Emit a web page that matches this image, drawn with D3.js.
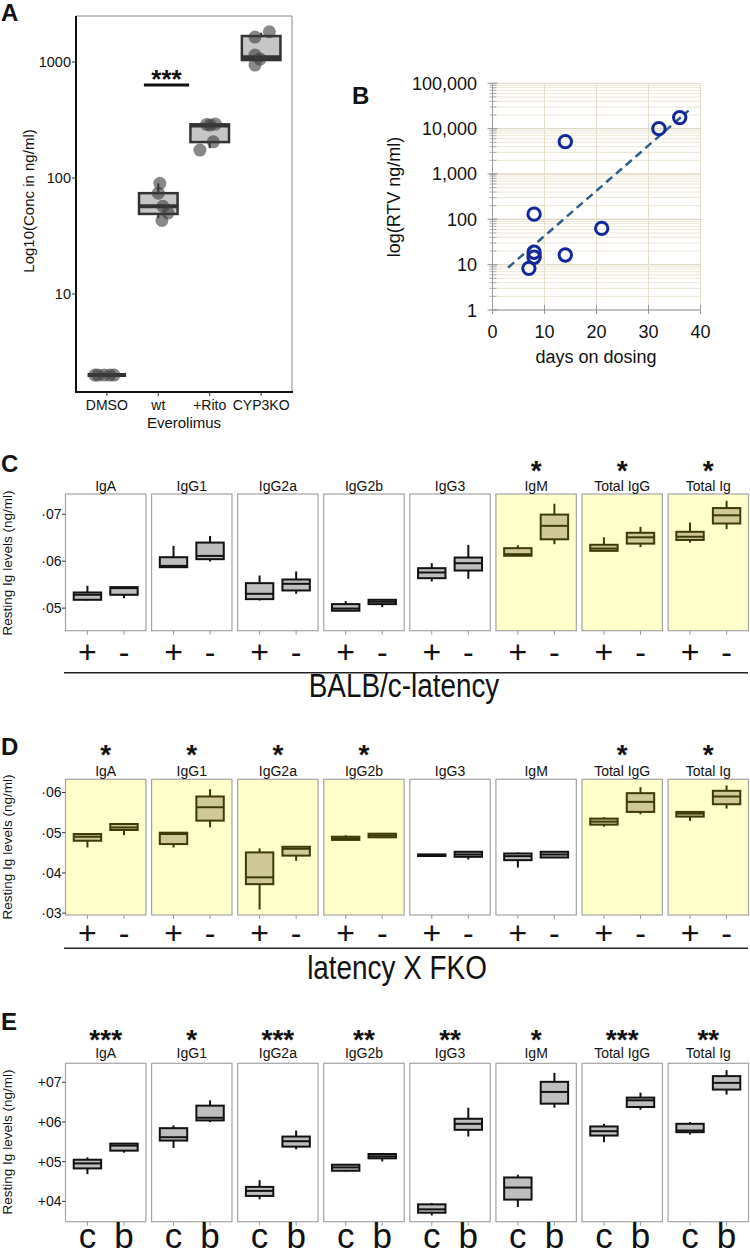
<!DOCTYPE html>
<html><head><meta charset="utf-8">
<script src="https://cdn.jsdelivr.net/npm/d3@7"></script>
<style>
body{margin:0;background:#fff}
svg{display:block}
text{font-family:"Liberation Sans",Arial,Helvetica,sans-serif;fill:#111}
</style>
</head><body>
<svg id="chart" width="750" height="1256"></svg>
<script>
// ================= DATA =================
// Panel A
const aCategories = ["DMSO", "wt", "+Rito", "CYP3KO"];
const aLow    = [2.0, 45, 181, 1000];
const aQ1     = [2.0, 49, 204, 1040];
const aMedian = [2.0, 57, 283, 1100];
const aQ3     = [2.0, 74, 290, 1675];
const aHigh   = [2.0, 90, 290, 1790];
const aPoints = [[2, 2, 2, 2, 2], [90, 74, 57, 50, 43], [174, 286, 292, 205, 290], [1640, 1820, 1150, 1060, 942]];
const aJitter = [[-0.23, -0.17, -0.05, 0.06, 0.14], [0.03, 0, 0.09, 0.19, 0.07], [-0.19, 0.01, 0.11, 0.07, -0.06], [-0.12, 0.16, -0.12, -0.02, -0.12]];
const aTicks = [10, 100, 1000];
const aSigFrom = 1.72, aSigTo = 2.6, aSigValue = 634, aSigLabel = "***";

// Panel B
const bDays = [7, 8, 8, 8, 14, 14, 21, 32, 36];
const bRTV  = [8.3, 14.6, 18.8, 130, 16.3, 5160, 63, 10000, 17500];
const bTrendDays = [3, 37.7];
const bTrendRTV  = [8.6, 25000];
const bXTicks = [0, 10, 20, 30, 40];
const bYTicks = [1, 10, 100, 1000, 10000, 100000];

// Panels C-E (log10 Ig levels): [low whisker, Q1, median, Q3, high whisker]
const isotypes = ["IgA", "IgG1", "IgG2a", "IgG2b", "IgG3", "IgM", "Total IgG", "Total Ig"];

const cPlus = [[5.163, 5.177, 5.284, 5.333, 5.475], [5.872, 5.872, 5.90, 6.085, 6.326], [5.163, 5.191, 5.305, 5.532, 5.695], [4.943, 4.943, 4.99, 5.085, 5.149],
               [5.567, 5.638, 5.759, 5.851, 5.957], [6.116, 6.116, 6.15, 6.278, 6.34], [6.221, 6.221, 6.27, 6.35, 6.509], [6.396, 6.453, 6.522, 6.627, 6.825]];
const cMinus = [[5.213, 5.284, 5.426, 5.447, 5.447], [5.993, 6.043, 6.113, 6.397, 6.539], [5.305, 5.376, 5.518, 5.61, 5.78], [5.02, 5.085, 5.135, 5.177, 5.19],
                [5.624, 5.801, 5.957, 6.078, 6.348], [6.362, 6.467, 6.754, 6.994, 7.225], [6.3, 6.375, 6.509, 6.606, 6.733], [6.684, 6.804, 6.979, 7.133, 7.288]];
const cStars = ["", "", "", "", "", "*", "*", "*"];
const cHighlight = [0, 0, 0, 0, 0, 1, 1, 1];
const cTicks = [5, 6, 7];
const cTickLabels = ["·05", "·06", "·07"];

const dPlus = [[4.633, 4.8, 4.9, 4.967, 4.967], [4.633, 4.717, 4.967, 5.0, 5.0], [3.09, 3.72, 3.89, 4.51, 4.61], [4.82, 4.82, 4.86, 4.90, 4.935],
               [4.42, 4.42, 4.44, 4.46, 4.46], [4.133, 4.317, 4.417, 4.483, 4.508], [5.15, 5.2, 5.275, 5.35, 5.383], [5.292, 5.4, 5.475, 5.517, 5.525]];
const dMinus = [[4.94, 5.067, 5.13, 5.216, 5.216], [5.133, 5.3, 5.633, 5.9, 6.083], [4.30, 4.43, 4.6, 4.65, 4.67], [4.885, 4.885, 4.93, 4.975, 4.975],
                [4.333, 4.4, 4.458, 4.525, 4.525], [4.383, 4.383, 4.458, 4.525, 4.525], [5.458, 5.517, 5.767, 5.983, 6.133], [5.6, 5.708, 5.9, 6.042, 6.175]];
const dStars = ["*", "*", "*", "*", "", "", "*", "*"];
const dHighlight = [1, 1, 1, 1, 0, 0, 1, 1];
const dTicks = [3, 4, 5, 6];
const dTickLabels = ["·03", "·04", "·05", "·06"];

const eC = [[4.687, 4.831, 4.958, 5.05, 5.11], [5.347, 5.533, 5.617, 5.845, 5.913], [4.053, 4.138, 4.265, 4.366, 4.535], [4.755, 4.772, 4.856, 4.924, 4.924],
            [3.647, 3.715, 3.8, 3.926, 3.96], [3.859, 4.045, 4.349, 4.603, 4.67], [5.49, 5.659, 5.769, 5.888, 5.955], [5.685, 5.744, 5.786, 5.955, 5.997]];
const eB = [[5.228, 5.279, 5.406, 5.456, 5.456], [5.997, 6.04, 6.107, 6.412, 6.547], [5.313, 5.38, 5.516, 5.634, 5.786], [5.008, 5.085, 5.135, 5.194, 5.211],
            [5.634, 5.803, 5.955, 6.082, 6.361], [6.361, 6.462, 6.758, 7.012, 7.24], [6.31, 6.378, 6.547, 6.615, 6.741], [6.69, 6.817, 6.986, 7.156, 7.308]];
const eStars = ["***", "*", "***", "**", "**", "*", "***", "**"];
const eHighlight = [0, 0, 0, 0, 0, 0, 0, 0];
const eTicks = [4, 5, 6, 7];
const eTickLabels = ["+04", "+05", "+06", "+07"];

// ================= DRAW =================
const svg = d3.select("#chart");

function panelLetter(t, x, y) {
  svg.append("text").attr("x", x).attr("y", y).attr("font-size", 24).attr("font-weight", "bold").text(t);
}

// ---------- Panel A ----------
(function () {
  const g = svg.append("g");
  const x = d3.scaleLinear().domain([0.4, 4.6]).range([76, 292]);
  const y = d3.scaleLog().domain([1.4, 2494]).range([393, 16]);
  const step = x(2) - x(1), bw = 0.75 * step;
  g.append("line").attr("x1", 76).attr("x2", 292).attr("y1", 16).attr("y2", 16).attr("stroke", "#888").attr("stroke-width", 1);
  g.append("line").attr("x1", 292).attr("x2", 292).attr("y1", 16).attr("y2", 392).attr("stroke", "#888").attr("stroke-width", 1);
  g.append("line").attr("x1", 76).attr("x2", 76).attr("y1", 16).attr("y2", 393).attr("stroke", "#111").attr("stroke-width", 2);
  g.append("line").attr("x1", 75).attr("x2", 293).attr("y1", 392).attr("y2", 392).attr("stroke", "#111").attr("stroke-width", 2);
  aTicks.forEach(t => {
    g.append("line").attr("x1", 72).attr("x2", 76).attr("y1", y(t)).attr("y2", y(t)).attr("stroke", "#333");
    g.append("text").attr("x", 71).attr("y", y(t) + 5).attr("text-anchor", "end").attr("font-size", 14.5).text(t);
  });
  aCategories.forEach((c, i) => {
    const cx = x(i + 1);
    g.append("line").attr("x1", cx).attr("x2", cx).attr("y1", 392).attr("y2", 396).attr("stroke", "#333");
    g.append("text").attr("x", cx).attr("y", 410).attr("text-anchor", "middle").attr("font-size", 14).text(c);
  });
  g.append("text").attr("x", (x(2) + x(3)) / 2).attr("y", 428).attr("text-anchor", "middle").attr("font-size", 15).text("Everolimus");
  g.append("text").attr("transform", "translate(33.5,201) rotate(-90)").attr("text-anchor", "middle").attr("font-size", 15).text("Log10(Conc in ng/ml)");
  aCategories.forEach((c, i) => {
    const cx = x(i + 1);
    g.append("line").attr("x1", cx).attr("x2", cx).attr("y1", y(aHigh[i])).attr("y2", y(aQ3[i])).attr("stroke", "#333").attr("stroke-width", 2);
    g.append("line").attr("x1", cx).attr("x2", cx).attr("y1", y(aQ1[i])).attr("y2", y(aLow[i])).attr("stroke", "#333").attr("stroke-width", 2);
    g.append("rect").attr("x", cx - bw / 2).attr("width", bw).attr("y", y(aQ3[i])).attr("height", Math.max(0, y(aQ1[i]) - y(aQ3[i])))
      .attr("fill", "#c6c6c6").attr("stroke", "#333").attr("stroke-width", 2.5);
    g.append("line").attr("x1", cx - bw / 2).attr("x2", cx + bw / 2).attr("y1", y(aMedian[i])).attr("y2", y(aMedian[i])).attr("stroke", "#333").attr("stroke-width", 4);
  });
  aPoints.forEach((pts, i) => {
    pts.forEach((v, j) => {
      g.append("circle").attr("cx", x(i + 1 + aJitter[i][j])).attr("cy", y(v)).attr("r", 6.5)
        .attr("fill", "#3a3a3a").attr("fill-opacity", 0.6);
    });
  });
  g.append("line").attr("x1", x(aSigFrom)).attr("x2", x(aSigTo)).attr("y1", y(aSigValue)).attr("y2", y(aSigValue)).attr("stroke", "#111").attr("stroke-width", 3);
  g.append("text").attr("x", (x(aSigFrom) + x(aSigTo)) / 2).attr("y", y(aSigValue) + 3).attr("text-anchor", "middle").attr("font-size", 26).attr("font-weight", "bold").text(aSigLabel);
})();
panelLetter("A", 1, 21);

// ---------- Panel B ----------
(function () {
  const g = svg.append("g");
  const x = d3.scaleLinear().domain([0, 40]).range([492.5, 700.5]);
  const y = d3.scaleLog().domain([1, 100000]).range([310, 83.3]);
  for (let d = 1; d <= 10000; d *= 10) {
    for (let k = 1; k <= 10; k++) {
      const v = k * d;
      g.append("line").attr("x1", x(0)).attr("x2", x(40)).attr("y1", y(v)).attr("y2", y(v))
        .attr("stroke", k === 1 || k === 10 ? "#ddd8c2" : "#ebe6d3").attr("stroke-width", 1);
      g.append("line").attr("x1", x(0) - 3).attr("x2", x(0) + 4).attr("y1", y(v)).attr("y2", y(v)).attr("stroke", "#aaa");
    }
  }
  bXTicks.forEach(t => {
    if (t > 0) g.append("line").attr("x1", x(t)).attr("x2", x(t)).attr("y1", 83.3).attr("y2", 310).attr("stroke", "#e3dfcb");
    g.append("line").attr("x1", x(t)).attr("x2", x(t)).attr("y1", 305).attr("y2", 314).attr("stroke", "#999");
    g.append("text").attr("x", x(t)).attr("y", 338).attr("text-anchor", "middle").attr("font-size", 18).text(t);
  });
  g.append("line").attr("x1", x(0)).attr("x2", x(0)).attr("y1", 83.3).attr("y2", 310).attr("stroke", "#9a9a9a");
  g.append("line").attr("x1", x(0)).attr("x2", x(40)).attr("y1", 310).attr("y2", 310).attr("stroke", "#9a9a9a");
  bYTicks.forEach(t => {
    g.append("line").attr("x1", x(0) - 5).attr("x2", x(0) + 5).attr("y1", y(t)).attr("y2", y(t)).attr("stroke", "#999");
    g.append("text").attr("x", 477).attr("y", y(t) + 6.5).attr("text-anchor", "end").attr("font-size", 18).text(d3.format(",")(t));
  });
  g.append("text").attr("x", 596).attr("y", 363).attr("text-anchor", "middle").attr("font-size", 18).text("days on dosing");
  g.append("text").attr("transform", "translate(399.5,197) rotate(-90)").attr("text-anchor", "middle").attr("font-size", 18).text("log(RTV ng/ml)");
  g.append("path").attr("d", d3.line().x(d => x(d[0])).y(d => y(d[1]))(bTrendDays.map((d, i) => [d, bTrendRTV[i]])))
    .attr("fill", "none").attr("stroke", "#2d5d8c").attr("stroke-width", 2.5).attr("stroke-dasharray", "8,5");
  bDays.forEach((d, i) => {
    g.append("circle").attr("cx", x(d)).attr("cy", y(bRTV[i])).attr("r", 6.2)
      .attr("fill", "none").attr("stroke", "#12289a").attr("stroke-width", 3);
  });
})();
panelLetter("B", 352, 104);

// ---------- Panels C-E ----------
function facetPanel(o) {
  const g = svg.append("g");
  const fx = d3.scaleBand().domain(isotypes).range([65.5, 748.5]).paddingInner(0.066);
  const y = d3.scaleLinear().domain(o.domain).range([o.bottom, o.top]);
  const ix = d3.scaleLinear().domain([0.4, 2.6]).range([0, fx.bandwidth()]);
  const bw = 0.75 * (ix(2) - ix(1));
  isotypes.forEach((iso, i) => {
    const x0 = fx(iso), w = fx.bandwidth();
    const hl = o.highlight[i];
    const stroke = hl ? "#3b3a08" : "#111";
    const fill = hl ? "#cfca95" : "#bebebe";
    g.append("rect").attr("x", x0).attr("y", o.top).attr("width", w).attr("height", o.bottom - o.top)
      .attr("fill", hl ? "#ffffcc" : "#fff").attr("stroke", "#a3a3a3").attr("stroke-width", 1.2);
    g.append("text").attr("x", x0 + w / 2).attr("y", o.stripY).attr("text-anchor", "middle").attr("font-size", 14).attr("fill", "#1a1a1a").text(iso);
    if (o.stars[i]) {
      g.append("text").attr("x", x0 + w / 2).attr("y", o.starY).attr("text-anchor", "middle").attr("font-size", 28).attr("font-weight", "bold").text(o.stars[i]);
    }
    [o.g1[i], o.g2[i]].forEach((s, j) => {
      const cx = x0 + ix(j + 1);
      g.append("line").attr("x1", cx).attr("x2", cx).attr("y1", o.bottom).attr("y2", o.bottom + 4).attr("stroke", "#999");
      g.append("line").attr("x1", cx).attr("x2", cx).attr("y1", y(s[4])).attr("y2", y(s[3])).attr("stroke", stroke).attr("stroke-width", 2);
      g.append("line").attr("x1", cx).attr("x2", cx).attr("y1", y(s[1])).attr("y2", y(s[0])).attr("stroke", stroke).attr("stroke-width", 2);
      g.append("rect").attr("x", cx - bw / 2).attr("width", bw).attr("y", y(s[3])).attr("height", Math.max(0.5, y(s[1]) - y(s[3])))
        .attr("fill", fill).attr("stroke", stroke).attr("stroke-width", 2);
      g.append("line").attr("x1", cx - bw / 2).attr("x2", cx + bw / 2).attr("y1", y(s[2])).attr("y2", y(s[2])).attr("stroke", stroke).attr("stroke-width", 2);
      g.append("text").attr("x", cx).attr("y", o.groupY).attr("text-anchor", "middle").attr("font-size", o.groupSize).text(o.groupLabels[j]);
    });
  });
  o.ticks.forEach((t, k) => {
    g.append("line").attr("x1", 62).attr("x2", 65.5).attr("y1", y(t)).attr("y2", y(t)).attr("stroke", "#333");
    g.append("text").attr("x", 61.5).attr("y", y(t) + 5).attr("text-anchor", "end").attr("font-size", 14).attr("fill", "#222").text(o.tickLabels[k]);
  });
  g.append("text").attr("transform", `translate(12,${o.titleY}) rotate(-90)`).attr("text-anchor", "middle").attr("font-size", 13.5).attr("fill", "#222").text("Resting Ig levels (ng/ml)");
  if (o.ruleY) {
    g.append("line").attr("x1", 64).attr("x2", 748).attr("y1", o.ruleY).attr("y2", o.ruleY).attr("stroke", "#222").attr("stroke-width", 1.5);
    g.append("text").attr("transform", `translate(${o.groupTitleX},${o.groupTitleY}) scale(0.82,1)`).attr("text-anchor", "middle")
      .attr("font-size", 34).text(o.groupTitle);
  }
}

facetPanel({ g1: cPlus, g2: cMinus, stars: cStars, highlight: cHighlight, ticks: cTicks, tickLabels: cTickLabels,
  domain: [4.518, 7.433], top: 494, bottom: 630.7, stripY: 491, starY: 480, groupLabels: ["+", "-"], groupY: 663, groupSize: 32,
  titleY: 563, ruleY: 672.7, groupTitle: "BALB/c-latency", groupTitleX: 404, groupTitleY: 697 });
panelLetter("C", 1, 472);

facetPanel({ g1: dPlus, g2: dMinus, stars: dStars, highlight: dHighlight, ticks: dTicks, tickLabels: dTickLabels,
  domain: [2.953, 6.328], top: 779.3, bottom: 915, stripY: 776, starY: 764, groupLabels: ["+", "-"], groupY: 944, groupSize: 32,
  titleY: 847, ruleY: 948.3, groupTitle: "latency X FKO", groupTitleX: 397, groupTitleY: 979 });
panelLetter("D", 1, 755);

facetPanel({ g1: eC, g2: eB, stars: eStars, highlight: eHighlight, ticks: eTicks, tickLabels: eTickLabels,
  domain: [3.489, 7.479], top: 1063.3, bottom: 1221.7, stripY: 1058, starY: 1049, groupLabels: ["c", "b"], groupY: 1247.5, groupSize: 35,
  titleY: 1142, ruleY: null });
panelLetter("E", 1, 1030);
</script>
</body></html>
